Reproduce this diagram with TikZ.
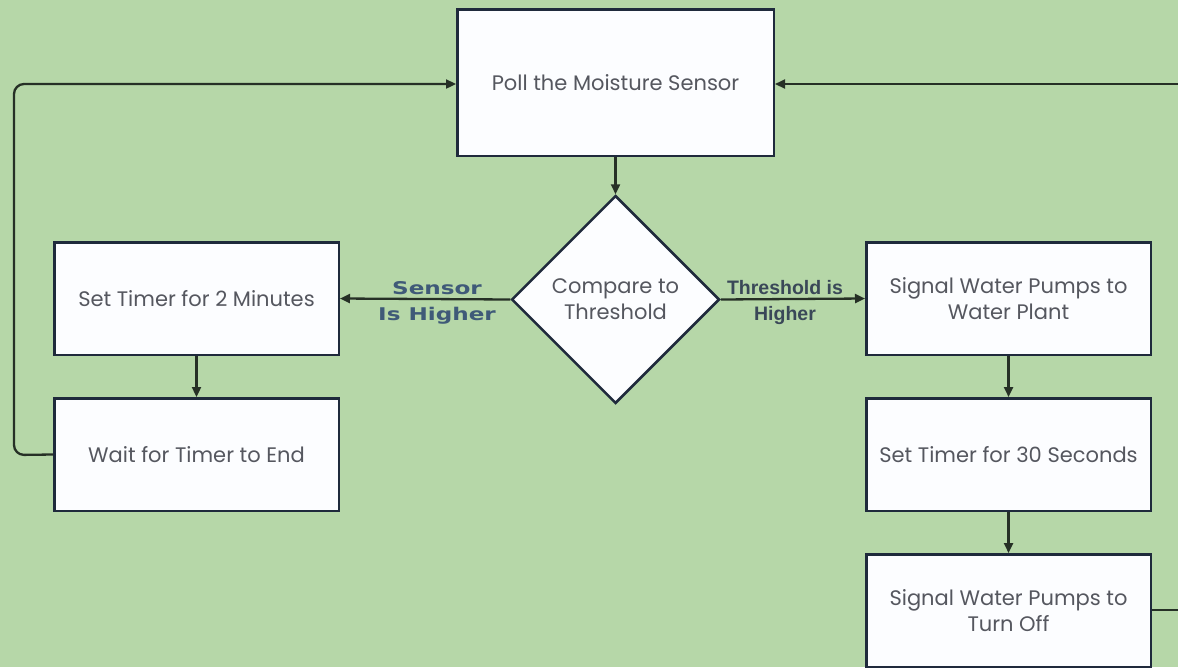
\documentclass[tikz,border=0pt]{standalone}
\usepackage{fontspec}
\usetikzlibrary{shapes.geometric,arrows.meta}
\setmainfont{Poppins}
\newfontfamily\lblfontA[FakeStretch=1.32]{DejaVu Sans Bold}
\newfontfamily\lblfontB{Liberation Sans Bold}
\definecolor{bg}{HTML}{B6D7A8}
\definecolor{boxline}{HTML}{1F2A3C}
\definecolor{boxfill}{HTML}{FCFDFF}
\definecolor{txt}{HTML}{55575F}
\definecolor{conn}{HTML}{263026}
\definecolor{lblA}{HTML}{3F5A78}
\definecolor{lblB}{HTML}{3A4858}
\tikzset{
  procbox/.style={draw=boxline, fill=boxfill, line width=2.5pt, rectangle,
    inner sep=0pt, align=center, text=txt,
    font=\fontsize{21}{26}\selectfont},
  decbox/.style={draw=boxline, fill=boxfill, line width=2.5pt, diamond,
    inner sep=0pt, align=center, text=txt, minimum width=208pt, minimum height=208pt,
    font=\fontsize{21}{26}\selectfont},
  conn/.style={draw=conn, line width=2.3pt, -{Triangle[length=10pt,width=9pt]}},
  plainconn/.style={draw=conn, line width=2.3pt},
}
\begin{document}
\begin{tikzpicture}[x=1pt,y=-1pt]
\useasboundingbox (0,0) rectangle (1178,667);
\clip (0,0) rectangle (1178,667);
\fill[bg] (0,0) rectangle (1178,667);

\node[procbox, minimum width=316.5pt, minimum height=146.5pt] (poll) at (615.5,82.5) {Poll the Moisture Sensor};
\node[decbox] (cmp) at (615.5,299.5) {Compare to\\Threshold};
\node[procbox, minimum width=284.5pt, minimum height=112.5pt] (set2) at (196.5,298.5) {Set Timer for 2 Minutes};
\node[procbox, minimum width=284.5pt, minimum height=112.5pt] (wait) at (196.5,454.5) {Wait for Timer to End};
\node[procbox, minimum width=284.5pt, minimum height=112.5pt] (sig) at (1008.5,298.5) {Signal Water Pumps to\\Water Plant};
\node[procbox, minimum width=284.5pt, minimum height=112.5pt] (set30) at (1008.5,454.5) {Set Timer for 30 Seconds};
\node[procbox, minimum width=284.5pt, minimum height=112.5pt] (off) at (1008.5,610.5) {Signal Water Pumps to\\Turn Off};

\coordinate (lc1) at (14,455);
\coordinate (lc2) at (14,84);
\coordinate (rc1) at (1200,610);
\coordinate (rc2) at (1200,84);

\draw[conn] (poll.south) -- (cmp.north);
\draw[conn] (cmp.west) -- (set2.east);
\draw[conn] (cmp.east) -- (sig.west);
\draw[conn] (set2.south) -- (wait.north);
\draw[conn] (sig.south) -- (set30.north);
\draw[conn] (set30.south) -- (off.north);
\draw[conn, rounded corners=10pt] (wait.west) -- (lc1) -- (lc2) -- (poll.west |- lc2);
\draw[plainconn] (off.east |- rc1) -- (rc1);
\draw[conn] (rc2) -- (poll.east |- rc2);

\node[text=lblA, font=\lblfontA\fontsize{17.5}{26}\selectfont, align=center, inner sep=0pt] (lblL) at (437,303) {Sensor\\Is Higher};
\node[text=lblB, font=\lblfontB\fontsize{19.5}{26}\selectfont, align=center, inner sep=0pt] (lblR) at (785,302) {Threshold is\\Higher};
\end{tikzpicture}
\end{document}
